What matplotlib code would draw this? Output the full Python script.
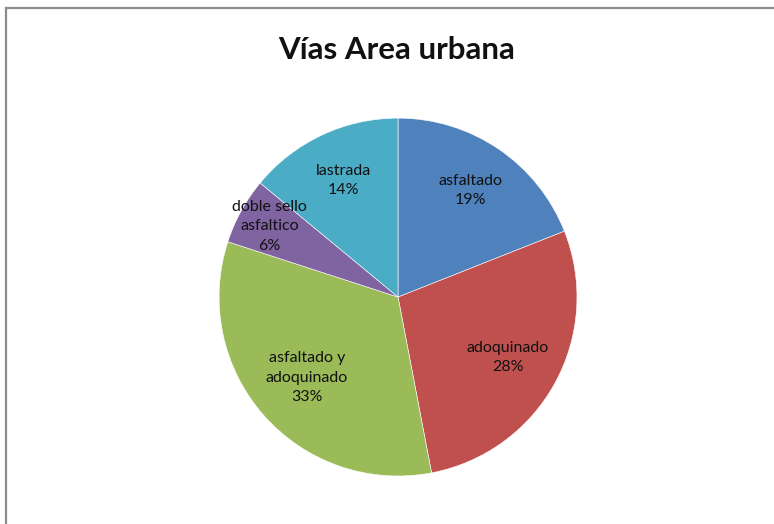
import matplotlib.pyplot as plt
import numpy as np
from matplotlib.patches import Rectangle

labels = ['asfaltado', 'adoquinado', 'asfaltado y\nadoquinado', 'doble sello\nasfaltico', 'lastrada']
shares = [19, 28, 33, 6, 14]
colors = ['#4F81BD', '#C0504D', '#9BBB59', '#8064A2', '#4BACC6']
label_r = [0.72, 0.70, 0.68, 0.82, 0.72]

plt.rcParams['font.family'] = ['Lato', 'DejaVu Sans']

fig = plt.figure(figsize=(7.74, 5.24), dpi=100)
fig.patch.set_facecolor('white')

# chart frame (left and top edges visible)
fig.patches.append(Rectangle((6 / 774, -0.1), 1.2, 1 - 8 / 524 + 0.1,
                             transform=fig.transFigure, fill=False,
                             edgecolor='#8c8c8c', linewidth=1.6))

ax = fig.add_axes([0.283, 0.0916, 0.4625, 0.683])
wedges, _ = ax.pie(shares, colors=colors, startangle=90, counterclock=False,
                   radius=1.0, wedgeprops=dict(edgecolor='white', linewidth=0.4))
ax.set_xlim(-1, 1)
ax.set_ylim(-1, 1)
ax.set_aspect('equal')
ax.axis('off')

for w, lab, val, r in zip(wedges, labels, shares, label_r):
    ang = np.deg2rad((w.theta1 + w.theta2) / 2)
    ax.text(r * np.cos(ang), r * np.sin(ang), f'{lab}\n{val}%',
            ha='center', va='center', fontsize=11.5, color='#111111',
            linespacing=1.5)

fig.text(0.513, 0.905, 'Vías Area urbana', ha='center', va='center',
         fontsize=22.5, fontweight='bold', color='#111111')

fig.savefig('out.png', dpi=100)
